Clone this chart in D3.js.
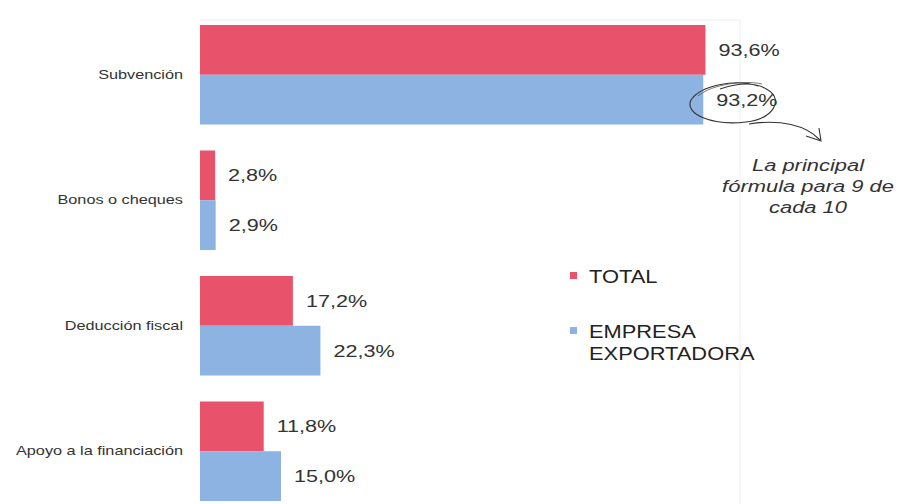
<!DOCTYPE html>
<html><head><meta charset="utf-8">
<script src="https://cdn.jsdelivr.net/npm/d3@7"></script>
<style>body{margin:0;background:#fff}svg{display:block}text{font-family:"Liberation Sans",Arial,sans-serif}</style>
</head><body><svg id="c" width="904" height="504"></svg>
<script>
const categories = ["Subvención","Bonos o cheques","Deducción fiscal","Apoyo a la financiación"];
const seriesNames = ["TOTAL","EMPRESA EXPORTADORA"];
const legendLines = [["TOTAL"],["EMPRESA","EXPORTADORA"]];
const totalValues = [93.6, 2.8, 17.2, 11.8];
const exportValues = [93.2, 2.9, 22.3, 15.0];
const annotationLines = ["La principal","fórmula para 9 de","cada 10"];
const colors = ["#E8536B","#8DB3E2"];
const fmt = v => v.toFixed(1).replace(".", ",") + "%";

const svg = d3.select("#c");
const x = d3.scaleLinear().domain([0,100]).range([200,740]);
const y = d3.scaleBand().domain(categories).range([25,501]).paddingInner(0.207).paddingOuter(0);
const ys = d3.scaleBand().domain(seriesNames).range([0,y.bandwidth()]);

// faint plot border
svg.append("path").attr("d",`M${x(0)},20H${x(100)}V504`).attr("fill","none").attr("stroke","#eceef0").attr("stroke-width",1);

const data = [];
categories.forEach((c,i)=>{
  data.push({c, s:seriesNames[0], v: totalValues[i], k:0});
  data.push({c, s:seriesNames[1], v: exportValues[i], k:1});
});

svg.selectAll("rect.bar").data(data).enter().append("rect")
  .attr("x", x(0)).attr("y", d=>y(d.c)+ys(d.s))
  .attr("width", d=>x(d.v)-x(0)).attr("height", ys.bandwidth())
  .attr("fill", d=>colors[d.k]);

svg.selectAll("text.val").data(data).enter().append("text")
  .attr("transform", d=>`translate(${x(d.v)+13},${y(d.c)+ys(d.s)+ys.bandwidth()/2}) scale(1.27,1)`)
  .attr("dy","0.35em").attr("font-size",17).attr("fill","#333")
  .text(d=>fmt(d.v));

// category axis labels
const yAxis = d3.axisLeft(y).tickSize(0).tickPadding(0);
const g = svg.append("g").attr("transform","translate(183,0)").call(yAxis);
g.select(".domain").remove();
g.selectAll("text").attr("font-size",13).attr("fill","#333").attr("transform","scale(1.25,1)")
  .style("font-family","'Liberation Sans',Arial,sans-serif");

// legend
const legY = [[283],[338,360]];
legendLines.forEach((lines,i)=>{
  svg.append("rect").attr("x",570).attr("y",legY[i][0]-11).attr("width",7).attr("height",7).attr("fill",colors[i]);
  lines.forEach((l,j)=>{
    svg.append("text").attr("transform",`translate(589,${legY[i][j]}) scale(1.15,1)`)
      .attr("font-size",19).attr("fill","#222").text(l);
  });
});

// annotation: hand-drawn loop around 93,2%
svg.append("path")
  .attr("d","M758,86 C735,78 700,86 691,100 C684,114 712,126 746,122 C773,119 784,100 768,90 C756,82 738,83 720,89")
  .attr("fill","none").attr("stroke","#333").attr("stroke-width",1.1);
svg.append("path")
  .attr("d","M762,84 C745,80 712,84 698,96")
  .attr("fill","none").attr("stroke","#555").attr("stroke-width",0.8);
svg.append("path")
  .attr("d","M749,124 C780,119 806,125 820,140")
  .attr("fill","none").attr("stroke","#333").attr("stroke-width",1.1);
svg.append("path")
  .attr("d","M806,136 L821,141 L819,128")
  .attr("fill","none").attr("stroke","#333").attr("stroke-width",1.1);
annotationLines.forEach((l,i)=>{
  svg.append("text").attr("transform",`translate(808,${171+i*21}) scale(1.29,1)`)
    .attr("font-size",17).attr("font-style","italic").attr("fill","#333").attr("text-anchor","middle").text(l);
});
</script></body></html>
